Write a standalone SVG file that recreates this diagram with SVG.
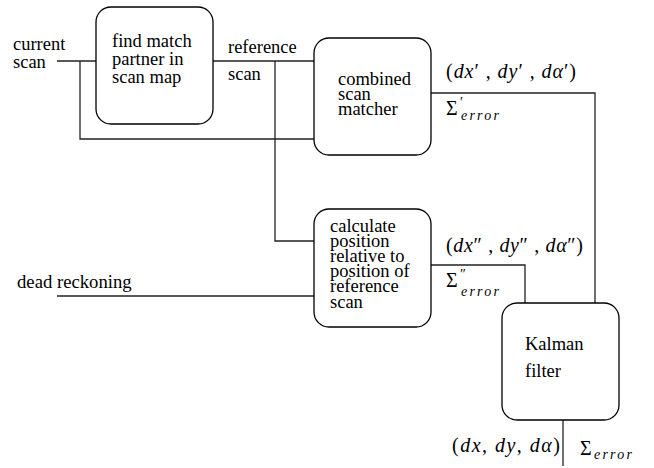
<svg xmlns="http://www.w3.org/2000/svg" width="654" height="468" viewBox="0 0 654 468">
<style>
.box{fill:#fff;stroke:#000;stroke-width:1.3}
.ln{fill:none;stroke:#222;stroke-width:1.3}
text{font-family:'Liberation Serif','Times New Roman',serif;fill:#000}
.t{font-size:18.5px}
.m{font-size:20px}
.i{font-style:italic}
.sub{font-size:14px;font-style:italic;letter-spacing:2.2px}
</style>
<rect width="654" height="468" fill="#fff"/>
<g id="connectors">
<path class="ln" d="M57,61 H96"/>
<path class="ln" d="M80,61 V139 H314"/>
<path class="ln" d="M213,61 H314"/>
<path class="ln" d="M275,61 V241 H314"/>
<path class="ln" d="M57,296 H314"/>
<path class="ln" d="M431,93 H595 V303"/>
<path class="ln" d="M431,265 H525 V303"/>
<path class="ln" d="M563,420 V466"/>
</g>
<g id="labels">
<text class="t" x="13" y="50">current</text>
<text class="t" x="13" y="68">scan</text>
<text class="t" x="228" y="53">reference</text>
<text class="t" x="228" y="80">scan</text>
<text class="t" x="17" y="288" style="font-size:18.7px">dead reckoning</text>
<text class="m" x="446" y="78" textLength="130" lengthAdjust="spacing">(<tspan class="i">dx</tspan>′ , <tspan class="i">dy</tspan>′ , <tspan class="i">dα</tspan>′)</text>
<text class="m" x="446" y="115">Σ</text><text class="m" x="460" y="107" style="font-size:14px">′</text><text class="sub" x="461" y="120">error</text>
<text class="m" x="446" y="252" textLength="137" lengthAdjust="spacing">(<tspan class="i">dx</tspan>″ , <tspan class="i">dy</tspan>″ , <tspan class="i">dα</tspan>″)</text>
<text class="m" x="446" y="287">Σ</text><text class="m" x="460" y="279" style="font-size:14px">″</text><text class="sub" x="461" y="296">error</text>
<text class="m" x="452" y="452" textLength="108" lengthAdjust="spacing">(<tspan class="i">dx</tspan>, <tspan class="i">dy</tspan>, <tspan class="i">dα</tspan>)</text>
<text class="m" x="580" y="455">Σ</text><text class="sub" x="594" y="459">error</text>
</g>
<g id="find-match">
<rect class="box" x="96" y="7" width="117" height="117" rx="15"/>
<text class="t" x="112" y="47">find match</text>
<text class="t" x="112" y="65">partner in</text>
<text class="t" x="112" y="83">scan map</text>
</g>
<g id="combined-scan-matcher">
<rect class="box" x="314" y="38" width="117" height="117" rx="15"/>
<text class="t" x="338" y="85">combined</text>
<text class="t" x="338" y="100">scan</text>
<text class="t" x="338" y="115">matcher</text>
</g>
<g id="calculate-position">
<rect class="box" x="314" y="209" width="117" height="118" rx="15"/>
<text class="t" x="330" y="232">calculate</text>
<text class="t" x="330" y="247">position</text>
<text class="t" x="330" y="262">relative to</text>
<text class="t" x="330" y="277">position of</text>
<text class="t" x="330" y="292">reference</text>
<text class="t" x="330" y="308">scan</text>
</g>
<g id="kalman-filter">
<rect class="box" x="502" y="303" width="117" height="117" rx="15"/>
<text class="t" x="525" y="350">Kalman</text>
<text class="t" x="525" y="377">filter</text>
</g>
</svg>
